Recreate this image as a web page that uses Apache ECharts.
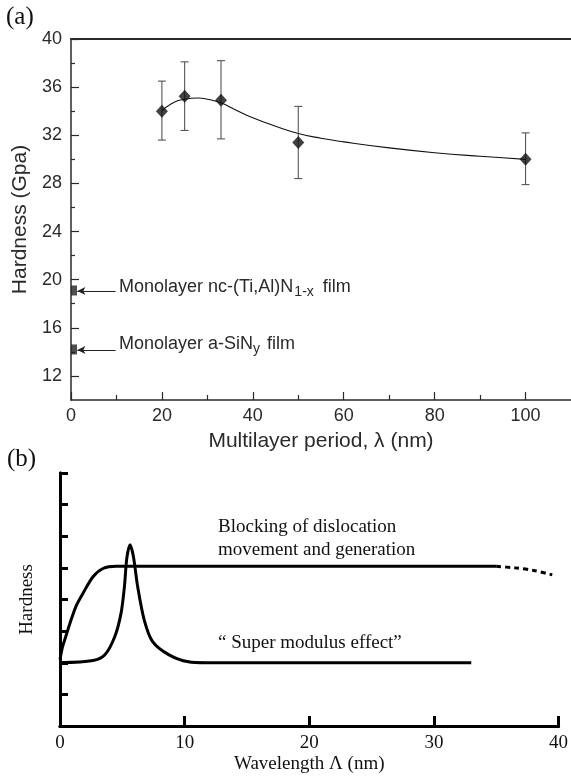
<!DOCTYPE html>
<html>
<head>
<meta charset="utf-8">
<script src="https://cdn.jsdelivr.net/npm/echarts@6/dist/echarts.min.js"></script>
<style>html,body{margin:0;padding:0;background:#fff;}#c{width:571px;height:782px;}</style>
</head>
<body>
<div id="c"></div>
<script>
// ---- Panel (a) data ----
const periodX = [20, 25, 33, 50, 100];
const hardness = [34.0, 35.25, 34.9, 31.4, 30.0];
const errLow = [31.6, 32.4, 31.7, 28.4, 27.9];
const errHigh = [36.5, 38.1, 38.2, 34.4, 32.2];
const fitX = [20, 22, 25, 28, 30, 33, 36, 40, 45, 50, 55, 60, 70, 80, 90, 100];
const fitY = [34.0, 34.6, 35.0, 35.1, 35.0, 34.7, 34.15, 33.45, 32.75, 32.15, 31.75, 31.45, 30.95, 30.55, 30.25, 30.0];
const monoY = [19.1, 14.2];
const monoLabels = ['Monolayer nc-(Ti,Al)N{sub|1-x} film', 'Monolayer a-SiN{sub|y} film'];
const aXMajor = [0, 20, 40, 60, 80, 100];
const aXMinor = [10, 30, 50, 70, 90];
const aYMajor = [12, 16, 20, 24, 28, 32, 36, 40];
const aYMinor = [14, 18, 22, 26, 30, 34, 38];

// ---- Panel (b) data ----
const blockX = [0, 0.2, 0.4, 0.8, 1.3, 1.85, 2.65, 3.45, 4.5, 35];
const blockY = [2.1, 2.5, 2.75, 3.25, 3.8, 4.2, 4.72, 4.98, 5.05, 5.05];
const dashX = [35, 36.5, 38, 39.5];
const dashY = [5.05, 5.0, 4.92, 4.78];
const superX = [0, 2.65, 3.6, 4.4, 4.9, 5.17, 5.36, 5.62, 5.89, 6.23, 6.76, 7.43, 8.75, 10.3, 11.7, 33];
const superY = [2.0, 2.07, 2.25, 2.83, 3.57, 4.41, 5.3, 5.73, 5.36, 4.41, 3.35, 2.67, 2.25, 2.03, 2.0, 2.0];
const bXTicks = [0, 10, 20, 30, 40];

const zip = (a, b) => a.map((v, i) => [v, b[i]]);
const sans = 'Liberation Sans';
const serif = 'Liberation Serif';
const gA = '#2a2a2a';

const chart = echarts.init(document.getElementById('c'), null, {renderer: 'canvas'});
chart.setOption({
  animation: false,
  backgroundColor: '#fff',
  grid: [
    {left: 71, top: 39, width: 502, height: 361},
    {left: 60, top: 473, width: 503, height: 253}
  ],
  xAxis: [
    {gridIndex: 0, type: 'value', position: 'bottom', min: 0, max: 110, interval: 10,
     axisLine: {lineStyle: {color: gA, width: 1.5}},
     axisTick: {inside: true, length: 8, customValues: aXMajor, lineStyle: {color: gA, width: 1.2}},
     axisLabel: {customValues: aXMajor, margin: 7, fontFamily: sans, fontSize: 18, color: gA},
     splitLine: {show: false},
     name: 'Multilayer period, \u03bb (nm)', nameLocation: 'middle', nameGap: 31,
     nameTextStyle: {fontFamily: sans, fontSize: 21, color: gA}},
    {gridIndex: 0, type: 'value', position: 'bottom', min: 0, max: 110, interval: 10,
     axisLine: {show: false},
     axisTick: {inside: true, length: 5, customValues: aXMinor, lineStyle: {color: gA, width: 1.2}},
     axisLabel: {show: false}, splitLine: {show: false}},
    {gridIndex: 0, type: 'value', position: 'top', min: 0, max: 110,
     axisLine: {lineStyle: {color: gA, width: 2}},
     axisTick: {show: false}, axisLabel: {show: false}, splitLine: {show: false}},
    {gridIndex: 1, type: 'value', position: 'bottom', min: 0, max: 40, interval: 10,
     axisLine: {lineStyle: {color: '#000', width: 3}},
     axisTick: {inside: true, length: 10, lineStyle: {color: '#000', width: 3}},
     axisLabel: {customValues: bXTicks, margin: 8, fontFamily: serif, fontSize: 19, color: '#111'},
     splitLine: {show: false},
     name: 'Wavelength \u039b (nm)', nameLocation: 'middle', nameGap: 29,
     nameTextStyle: {fontFamily: serif, fontSize: 19, color: '#111'}},
    {gridIndex: 1, type: 'value', position: 'top', min: 0, max: 40,
     axisLine: {lineStyle: {color: '#000', width: 3}},
     axisTick: {show: false}, axisLabel: {show: false}, splitLine: {show: false}}
  ],
  yAxis: [
    {gridIndex: 0, type: 'value', position: 'left', min: 10, max: 40, interval: 2,
     axisLine: {show: true, lineStyle: {color: gA, width: 1.5}},
     axisTick: {show: true, inside: true, length: 8, customValues: aYMajor, lineStyle: {color: gA, width: 1.2}},
     axisLabel: {customValues: aYMajor, margin: 9, fontFamily: sans, fontSize: 18, color: gA},
     splitLine: {show: false},
     name: 'Hardness (Gpa)', nameLocation: 'middle', nameGap: 40,
     nameTextStyle: {fontFamily: sans, fontSize: 21, color: gA}},
    {gridIndex: 0, type: 'value', position: 'left', min: 10, max: 40, interval: 2,
     axisLine: {show: false},
     axisTick: {show: true, inside: true, length: 4, customValues: aYMinor, lineStyle: {color: gA, width: 1.2}},
     axisLabel: {show: false}, splitLine: {show: false}},
    {gridIndex: 1, type: 'value', position: 'left', min: 0, max: 8, interval: 1,
     axisLine: {show: true, lineStyle: {color: '#000', width: 3}},
     axisTick: {show: true, inside: true, length: 8, lineStyle: {color: '#000', width: 3}},
     axisLabel: {show: false}, splitLine: {show: false},
     name: 'Hardness', nameLocation: 'middle', nameGap: 23,
     nameTextStyle: {fontFamily: serif, fontSize: 19, color: '#111'}},
    {gridIndex: 1, type: 'value', position: 'right', min: 0, max: 8,
     axisLine: {show: true, lineStyle: {color: '#000', width: 3}},
     axisTick: {show: false}, axisLabel: {show: false}, splitLine: {show: false}}
  ],
  series: [
    {type: 'line', xAxisIndex: 0, yAxisIndex: 0, data: zip(fitX, fitY), smooth: true,
     showSymbol: false, lineStyle: {color: '#111', width: 1.1}, silent: true},
    {type: 'custom', xAxisIndex: 0, yAxisIndex: 0,
     data: periodX.map((x, i) => [x, errLow[i], errHigh[i]]),
     encode: {x: 0, y: [1, 2]},
     renderItem: function (params, api) {
       const x = api.value(0);
       const lo = api.coord([x, api.value(1)]);
       const hi = api.coord([x, api.value(2)]);
       const w = 4;
       const st = {stroke: '#555', lineWidth: 1.1};
       return {type: 'group', children: [
         {type: 'line', shape: {x1: lo[0], y1: lo[1], x2: hi[0], y2: hi[1]}, style: st},
         {type: 'line', shape: {x1: hi[0] - w, y1: hi[1], x2: hi[0] + w, y2: hi[1]}, style: st},
         {type: 'line', shape: {x1: lo[0] - w, y1: lo[1], x2: lo[0] + w, y2: lo[1]}, style: st}
       ]};
     }},
    {type: 'scatter', xAxisIndex: 0, yAxisIndex: 0, data: zip(periodX, hardness),
     symbol: 'diamond', symbolSize: [12, 13], itemStyle: {color: '#111'}},
    {type: 'scatter', xAxisIndex: 0, yAxisIndex: 0, data: monoY.map(v => [0, v]),
     symbol: 'rect', symbolSize: [6, 10], symbolOffset: [3, 0], itemStyle: {color: '#222'}, clip: false,
     markLine: {silent: true, symbol: ['none', 'arrow'], symbolSize: [6, 8],
       lineStyle: {color: '#222', width: 1, type: 'solid'}, label: {show: false},
       data: monoY.map(v => [{coord: [9.8, v - 0.05]}, {coord: [1.4, v - 0.05]}])}},
    {type: 'line', xAxisIndex: 3, yAxisIndex: 2, data: zip(blockX, blockY), smooth: 0.3,
     showSymbol: false, lineStyle: {color: '#000', width: 3}},
    {type: 'line', xAxisIndex: 3, yAxisIndex: 2, data: zip(dashX, dashY), smooth: 0.3,
     showSymbol: false, lineStyle: {color: '#000', width: 3, type: [5, 4]}},
    {type: 'line', xAxisIndex: 3, yAxisIndex: 2, data: zip(superX, superY), smooth: 0.3,
     showSymbol: false, lineStyle: {color: '#000', width: 3}}
  ],
  graphic: [
    {type: 'text', left: 6, top: 5, style: {text: '(a)', font: '25px ' + serif, fill: '#111'}},
    {type: 'text', left: 7, top: 447, style: {text: '(b)', font: '25px ' + serif, fill: '#111'}},
    {type: 'text', left: 119, top: 278, style: {text: monoLabels[0], fontFamily: sans, fontSize: 18, fill: gA,
      rich: {sub: {fontFamily: sans, fontSize: 14, padding: [10, 4, 0, 1], fill: gA}}}},
    {type: 'text', left: 119, top: 335, style: {text: monoLabels[1], fontFamily: sans, fontSize: 18, fill: gA,
      rich: {sub: {fontFamily: sans, fontSize: 14, padding: [10, 2, 0, 0], fill: gA}}}},
    {type: 'text', left: 218, top: 518, style: {text: 'Blocking of dislocation', font: '19px ' + serif, fill: '#111'}},
    {type: 'text', left: 218, top: 541, style: {text: 'movement and generation', font: '19px ' + serif, fill: '#111'}},
    {type: 'text', left: 218, top: 634, style: {text: '\u201c Super modulus effect\u201d', font: '19px ' + serif, fill: '#111'}}
  ]
});
</script>
</body>
</html>
